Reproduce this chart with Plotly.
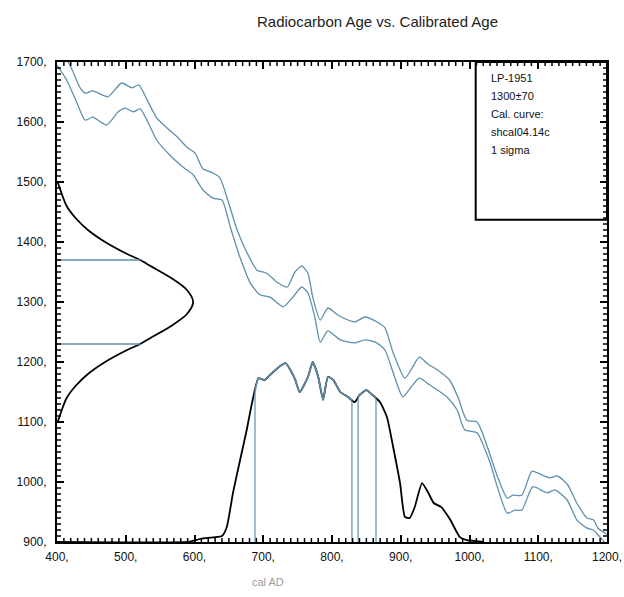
import numpy as np
import plotly.graph_objects as go

# Calibration curve envelope (upper / lower 1-sigma bounds), cal AD vs 14C age
upper_x = [400, 410, 422, 433, 441, 452, 474, 494, 509, 519, 531, 545, 560, 575, 589, 601, 612, 627, 637, 647, 662, 676, 691, 705, 720, 735, 746, 756, 765, 772, 783, 794, 809, 833, 848, 865, 877, 889, 906, 915, 927, 938, 953, 971, 983, 996, 1011, 1020, 1030, 1041, 1055, 1063, 1076, 1091, 1105, 1117, 1128, 1143, 1156, 1171, 1180, 1187, 1197, 1200]
upper_y = [1740, 1715, 1687, 1658, 1648, 1652, 1642, 1665, 1657, 1662, 1637, 1607, 1590, 1575, 1558, 1548, 1522, 1515, 1507, 1475, 1420, 1383, 1353, 1348, 1333, 1325, 1350, 1360, 1348, 1308, 1270, 1290, 1278, 1267, 1275, 1267, 1257, 1215, 1173, 1187, 1208, 1198, 1187, 1170, 1142, 1103, 1100, 1078, 1045, 1008, 973, 978, 978, 1018, 1012, 1007, 1010, 995, 965, 940, 937, 923, 915, 913]

lower_x = [400, 414, 429, 441, 452, 472, 489, 499, 511, 521, 533, 545, 564, 583, 598, 612, 627, 640, 652, 666, 681, 695, 710, 729, 743, 756, 765, 775, 783, 794, 812, 833, 848, 865, 877, 889, 903, 915, 927, 942, 967, 982, 993, 1011, 1023, 1030, 1041, 1055, 1066, 1076, 1092, 1113, 1124, 1142, 1156, 1171, 1180, 1190, 1200]
lower_y = [1695, 1670, 1632, 1603, 1608, 1595, 1617, 1623, 1617, 1622, 1598, 1570, 1545, 1525, 1512, 1487, 1473, 1470, 1425, 1375, 1332, 1312, 1308, 1292, 1308, 1325, 1315, 1275, 1233, 1252, 1237, 1232, 1237, 1232, 1220, 1182, 1142, 1158, 1173, 1162, 1142, 1120, 1087, 1082, 1053, 1032, 990, 948, 953, 953, 992, 982, 987, 970, 937, 923, 920, 908, 895]

# Calibrated probability distribution (drawn on the age axis, baseline 900)
prob_x = [400, 590, 601, 612, 640, 647, 656, 666, 676, 683, 693, 702, 714, 732, 746, 753, 765, 772, 780, 787, 794, 802, 812, 823, 833, 840, 850, 859, 870, 880, 889, 899, 906, 913, 920, 931, 940, 948, 959, 972, 986, 996, 1015, 1020]
prob_y = [900, 900, 903, 906, 910, 925, 982, 1035, 1087, 1128, 1173, 1170, 1183, 1198, 1172, 1150, 1175, 1200, 1175, 1137, 1175, 1170, 1150, 1142, 1133, 1145, 1153, 1145, 1133, 1108, 1058, 998, 942, 940, 957, 998, 982, 965, 958, 937, 908, 903, 901, 900]

# Radiocarbon measurement distribution (1300 +/- 70), drawn on the left
gauss_age = [1500, 1480, 1460, 1440, 1420, 1400, 1380, 1370, 1360, 1340, 1320, 1300, 1280, 1260, 1240, 1230, 1220, 1200, 1180, 1160, 1140, 1120, 1100]
gauss_x = [401, 407, 414, 427, 445, 470, 502, 521, 536, 566, 589, 598, 589, 566, 536, 521, 502, 470, 445, 427, 414, 407, 401]

sigma_ages = [1370, 1230]
sigma_ranges = [(688, 829), (838, 864)]

legend_lines = ["LP-1951", "1300±70", "Cal. curve:", "shcal04.14c", "1 sigma"]

X_RANGE = [400, 1200]
Y_RANGE = [900, 1700]

BLUE = "#5f90ad"
FONT = "Liberation Sans, Arial, sans-serif"

fig = go.Figure()

fig.add_trace(go.Scatter(x=upper_x, y=upper_y, mode="lines", line=dict(color=BLUE, width=1.3, shape="spline", smoothing=0.6), hoverinfo="skip"))
fig.add_trace(go.Scatter(x=lower_x, y=lower_y, mode="lines", line=dict(color=BLUE, width=1.3, shape="spline", smoothing=0.6), hoverinfo="skip"))

# Probability curve (black) and its in-range segments (blue)
fig.add_trace(go.Scatter(x=prob_x, y=prob_y, mode="lines", line=dict(color="black", width=1.8, shape="spline", smoothing=0.5), hoverinfo="skip"))
px_arr = np.array(prob_x, float)
py_arr = np.array(prob_y, float)
for a, b in sigma_ranges:
    inside = (px_arr > a) & (px_arr < b)
    sx = [a] + list(px_arr[inside]) + [b]
    sy = [np.interp(a, px_arr, py_arr)] + list(py_arr[inside]) + [np.interp(b, px_arr, py_arr)]
    fig.add_trace(go.Scatter(x=sx, y=sy, mode="lines", line=dict(color=BLUE, width=1.6, shape="spline", smoothing=0.5), hoverinfo="skip"))
    for xv in (a, b):
        fig.add_trace(go.Scatter(x=[xv, xv], y=[900, np.interp(xv, px_arr, py_arr)], mode="lines", line=dict(color=BLUE, width=1.2), hoverinfo="skip"))

# Gaussian on the left
fig.add_trace(go.Scatter(x=gauss_x, y=gauss_age, mode="lines", line=dict(color="black", width=1.8, shape="spline", smoothing=0.8), hoverinfo="skip"))
ga = np.array(gauss_age[::-1], float)
gx = np.array(gauss_x[::-1], float)
for s in sigma_ages:
    fig.add_trace(go.Scatter(x=[400, np.interp(s, ga, gx)], y=[s, s], mode="lines", line=dict(color=BLUE, width=1.3), hoverinfo="skip"))

# Legend box
fig.add_shape(type="rect", xref="x", yref="y", x0=1009, x1=1200, y0=1437, y1=1700, line=dict(color="black", width=2), fillcolor="white", layer="below")
for i, t in enumerate(legend_lines):
    fig.add_annotation(x=1028, y=1673 - 30 * i, xref="x", yref="y", text=t, showarrow=False, xanchor="left", yanchor="middle", font=dict(family=FONT, size=11, color="#111"))

fig.add_annotation(x=(268 - 57) / 550, y=0, xref="paper", yref="paper", yshift=-48, text="cal AD", showarrow=False, font=dict(family=FONT, size=11, color="#9a9a9a"))

# Minor tick marks (every 10) on all four sides, pixel-sized
for v in range(X_RANGE[0], X_RANGE[1] + 1, 10):
    if v % 100 == 0:
        continue
    for anchor, (y0, y1) in ((Y_RANGE[0], (0, 4)), (Y_RANGE[1], (0, -4))):
        fig.add_shape(type="line", xref="x", yref="y", x0=v, x1=v, ysizemode="pixel", yanchor=anchor, y0=y0, y1=y1, line=dict(color="black", width=1.5), layer="above")
for v in range(Y_RANGE[0], Y_RANGE[1] + 1, 10):
    if v % 100 == 0:
        continue
    for anchor, (x0, x1) in ((X_RANGE[0], (0, 4)), (X_RANGE[1], (0, -4))):
        fig.add_shape(type="line", xref="x", yref="y", y0=v, y1=v, xsizemode="pixel", xanchor=anchor, x0=x0, x1=x1, line=dict(color="black", width=1.5), layer="above")

axis_common = dict(showgrid=False, zeroline=False, showline=True, linecolor="black", linewidth=2, mirror="allticks",
                   ticks="inside", ticklen=7, tickwidth=2, tickcolor="#000000", automargin=False,
                   tickmode="linear", dtick=100, ticksuffix=",", separatethousands=False,
                   layer="above traces",
                   tickfont=dict(family=FONT, size=12, color="#111"))

fig.update_layout(
    xaxis=dict(range=X_RANGE, tick0=400, ticklabelstandoff=3, **axis_common),
    yaxis=dict(range=Y_RANGE, tick0=900, ticklabelstandoff=6, **axis_common),
    width=624, height=597,
    margin=dict(l=57, r=17, t=62, b=55),
    paper_bgcolor="white", plot_bgcolor="white",
    showlegend=False,
    title=dict(text="Radiocarbon Age vs. Calibrated Age", x=0.605, xanchor="center", y=0.963, yanchor="middle", font=dict(family=FONT, size=15, color="#222")),
)

fig.write_html("out.html")
